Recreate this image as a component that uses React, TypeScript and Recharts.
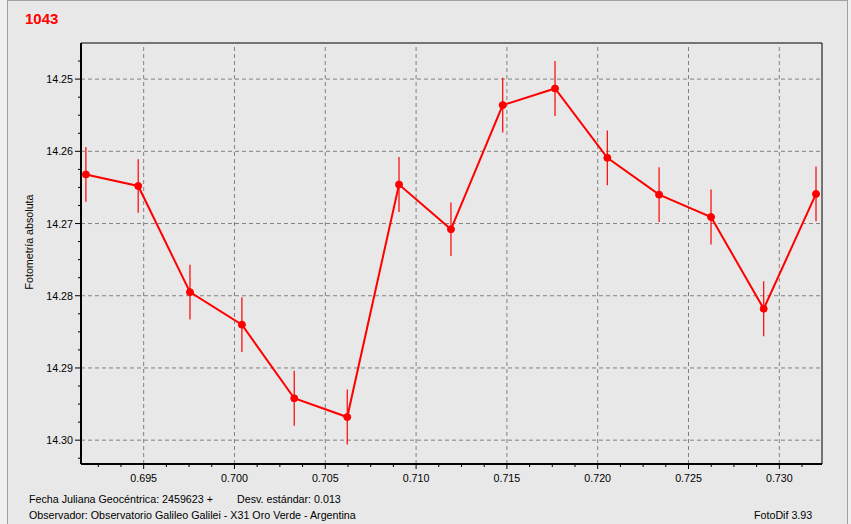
import React from 'react'
import { LineChart, Line, XAxis, YAxis, ErrorBar, ReferenceLine, ReferenceArea } from 'recharts'

// fraction of the julian day (2459623 +)
const jd = [0.69182, 0.6947, 0.69755, 0.70041, 0.70329, 0.70621, 0.70906, 0.71192, 0.71477, 0.71765, 0.72053, 0.72338, 0.72624, 0.72914, 0.73202]
// absolute photometry
const mag = [14.2632, 14.2648, 14.2795, 14.284, 14.2942, 14.2968, 14.2646, 14.2708, 14.2536, 14.2513, 14.2609, 14.266, 14.2691, 14.2818, 14.2659]
const magErr = [0.0038, 0.0037, 0.0038, 0.0038, 0.0038, 0.0038, 0.0038, 0.0037, 0.0038, 0.0038, 0.0038, 0.0038, 0.0038, 0.0038, 0.0038]

const xMajor = [0.695, 0.7, 0.705, 0.71, 0.715, 0.72, 0.725, 0.73]
const yMajor = [14.25, 14.26, 14.27, 14.28, 14.29, 14.3]

const xDomain: [number, number] = [0.69155, 0.73235]
const yDomain: [number, number] = [14.245, 14.3033]

const red = '#ff0000'
const font = "Tahoma, 'Liberation Sans', Arial, sans-serif"
const fs = 10.7

// minor ticks every quarter of a major step
const steps = (from: number, to: number, step: number) => {
  const out: number[] = []
  for (let v = from; v <= to + step / 10; v += step) out.push(Math.round(v * 1e6) / 1e6)
  return out
}
const xTicks = steps(0.6925, 0.73125, 0.00125)
const yTicks = steps(14.2475, 14.3025, 0.0025)

const isMajorX = (v: number) => Math.abs(v * 200 - Math.round(v * 200)) < 1e-6
const isMajorY = (v: number) => Math.abs(v * 100 - Math.round(v * 100)) < 1e-6

const rows = jd.map((x, i) => ({ jd: x, mag: mag[i], err: magErr[i] }))

const XTick = (props: any) => {
  const { x, y, payload } = props
  const major = isMajorX(payload.value)
  return (
    <g>
      <line x1={x} x2={x} y1={y} y2={y + (major ? 5 : 3)} stroke="#000" />
      {major && (
        <text x={x} y={y + 18} textAnchor="middle" fontSize={fs} fontFamily={font} fill="#000">
          {payload.value.toFixed(3)}
        </text>
      )}
    </g>
  )
}

const YTick = (props: any) => {
  const { x, y, payload } = props
  const major = isMajorY(payload.value)
  return (
    <g>
      <line x1={x} x2={x - (major ? 6 : 3)} y1={y} y2={y} stroke="#000" />
      {major && (
        <text x={x - 8} y={y + 4} textAnchor="end" fontSize={fs} fontFamily={font} fill="#000">
          {payload.value.toFixed(2)}
        </text>
      )}
    </g>
  )
}

export default function App() {
  return (
    <div style={{ position: 'absolute', left: 0, top: 0, width: 851, height: 524, background: '#f0f0f0', overflow: 'hidden' }}>
      <div
        style={{
          position: 'absolute',
          left: 7,
          top: 0,
          width: 839,
          height: 530,
          background: '#e8e8e8',
          border: '1px solid #a0a0a0',
        }}
      />
      <div style={{ position: 'absolute', left: 0, top: 0 }}>
        <LineChart width={851} height={524} data={rows} margin={{ top: 43, right: 29, bottom: 30, left: 21 }}>
          <XAxis
            dataKey="jd"
            type="number"
            domain={xDomain}
            allowDataOverflow
            ticks={xTicks}
            interval={0}
            tick={<XTick />}
            tickLine={false}
            tickSize={0}
            tickMargin={0}
            height={30}
            axisLine={{ stroke: '#000', strokeWidth: 2 }}
          />
          <YAxis
            type="number"
            reversed
            domain={yDomain}
            allowDataOverflow
            ticks={yTicks}
            interval={0}
            tick={<YTick />}
            tickLine={false}
            tickSize={0}
            tickMargin={0}
            width={60}
            axisLine={{ stroke: '#000', strokeWidth: 2 }}
          />
          {xMajor.map((v) => (
            <ReferenceLine key={`x${v}`} x={v} stroke="#808080" strokeDasharray="4 3" />
          ))}
          {yMajor.map((v) => (
            <ReferenceLine key={`y${v}`} y={v} stroke="#808080" strokeDasharray="4 3" />
          ))}
          <ReferenceArea
            x1={xDomain[0]}
            x2={xDomain[1]}
            y1={yDomain[0]}
            y2={yDomain[1]}
            fill="none"
            stroke="#000"
            strokeWidth={1}
          />
          <Line
            dataKey="mag"
            stroke={red}
            strokeWidth={2}
            dot={{ r: 3.5, fill: red, stroke: red, strokeWidth: 1 }}
            activeDot={false}
            isAnimationActive={false}
          >
            <ErrorBar dataKey="err" direction="y" width={0} stroke={red} strokeWidth={1.2} isAnimationActive={false} />
          </Line>
        </LineChart>
      </div>
      <svg width={851} height={524} style={{ position: 'absolute', left: 0, top: 0, pointerEvents: 'none' }}>
        <text x={25} y={24} fontSize={15} fontWeight="bold" fontFamily={font} fill={red}>
          1043
        </text>
        <text
          x={33}
          y={242}
          transform="rotate(-90 33 242)"
          textAnchor="middle"
          fontSize={fs}
          fontFamily={font}
          fill="#000"
        >
          Fotometría absoluta
        </text>
        <text x={29} y={503} fontSize={fs} fontFamily={font} fill="#000">
          Fecha Juliana Geocéntrica: 2459623 +
        </text>
        <text x={237} y={503} fontSize={fs} fontFamily={font} fill="#000">
          Desv. estándar: 0.013
        </text>
        <text x={29} y={519} fontSize={fs} fontFamily={font} fill="#000">
          Observador: Observatorio Galileo Galilei - X31 Oro Verde - Argentina
        </text>
        <text x={754} y={519} fontSize={fs} fontFamily={font} fill="#000">
          FotoDif 3.93
        </text>
      </svg>
    </div>
  )
}
